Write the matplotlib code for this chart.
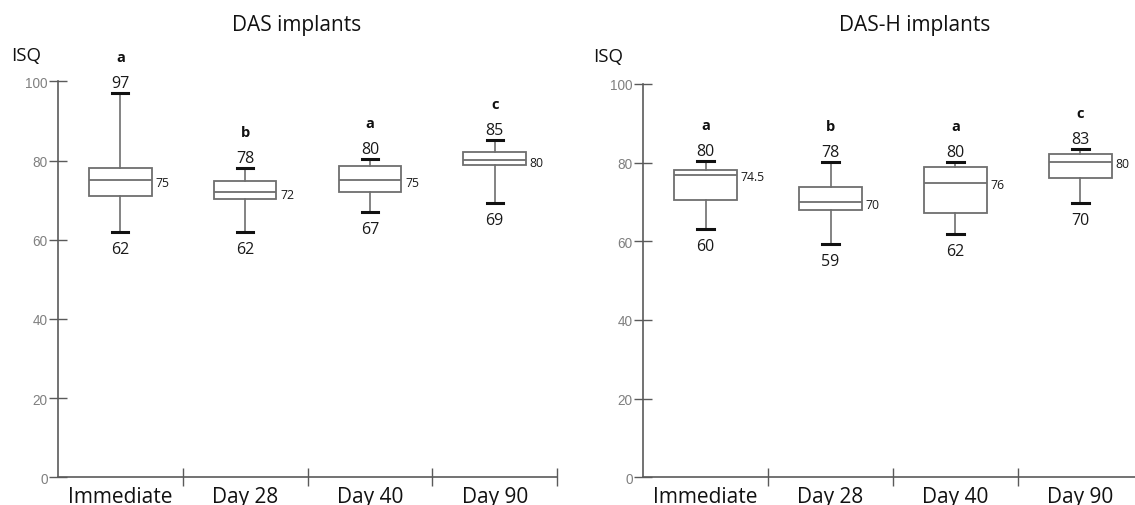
import matplotlib
matplotlib.use("Agg")
import matplotlib.pyplot as plt

plt.rcParams['font.family'] = ['Open Sans', 'DejaVu Sans']

categories = ["Immediate", "Day 28", "Day 40", "Day 90"]

# DAS implants (drawn values)
das_whislo = [62, 62, 67, 69.2]
das_q1 = [71, 70.4, 72, 78.9]
das_med = [75, 72, 75, 80.1]
das_q3 = [78.1, 74.9, 78.7, 82.1]
das_whishi = [97, 78.1, 80.3, 85.2]
das_top_lbl = ["97", "78", "80", "85"]
das_bot_lbl = ["62", "62", "67", "69"]
das_med_lbl = ["75", "72", "75", "80"]
das_letters = ["a", "b", "a", "c"]

# DAS-H implants (drawn values)
dash_whislo = [63.1, 59.3, 61.8, 69.8]
dash_q1 = [70.5, 68.0, 67.1, 76.1]
dash_med = [76.9, 69.9, 74.9, 80.2]
dash_q3 = [78.1, 73.9, 78.9, 82.2]
dash_whishi = [80.4, 80.2, 80.2, 83.4]
dash_top_lbl = ["80", "78", "80", "83"]
dash_bot_lbl = ["60", "59", "62", "70"]
dash_med_lbl = ["74.5", "70", "76", "80"]
dash_letters = ["a", "b", "a", "c"]

yticks = [0, 20, 40, 60, 80, 100]

W, H = 1135, 506
fig = plt.figure(figsize=(W / 100, H / 100), dpi=100)

def px_axes(x0, x1, ybot, ytop):
    return [x0 / W, (H - ybot) / H, (x1 - x0) / W, (ybot - ytop) / H]

ax1 = fig.add_axes(px_axes(58, 557, 478.3, 82.3))
ax2 = fig.add_axes(px_axes(643, 1143, 478.3, 85))

box_c = "#6e6e6e"
spine_c = "#5a5a5a"

def draw(ax, lo, q1, med, q3, hi, top_lbl, bot_lbl, med_lbl, letters):
    stats = []
    for i in range(len(categories)):
        stats.append(dict(med=med[i], q1=q1[i], q3=q3[i], whislo=lo[i],
                          whishi=hi[i], fliers=[], label=categories[i]))
    pos = list(range(len(categories)))
    ax.bxp(stats, positions=pos, widths=0.5, showfliers=False,
           patch_artist=True, capwidths=0.13,
           boxprops=dict(facecolor="white", edgecolor=box_c, linewidth=1.3),
           medianprops=dict(color=box_c, linewidth=1.3),
           whiskerprops=dict(color=box_c, linewidth=1.2),
           capprops=dict(color="#111111", linewidth=2.2))
    for i, p in enumerate(pos):
        ax.annotate(top_lbl[i], xy=(p, hi[i]), xytext=(0, 6),
                    textcoords="offset pixels", ha="center", va="baseline",
                    fontsize=11.5, color="#1a1a1a", annotation_clip=False)
        ax.annotate(bot_lbl[i], xy=(p, lo[i]), xytext=(0, -21),
                    textcoords="offset pixels", ha="center", va="baseline",
                    fontsize=11.5, color="#1a1a1a", annotation_clip=False)
        ax.annotate(letters[i], xy=(p, hi[i]), xytext=(0, 32),
                    textcoords="offset pixels", ha="center", va="baseline",
                    fontsize=10.5, fontweight="bold", color="#111111",
                    annotation_clip=False)
        ax.annotate(med_lbl[i], xy=(p + 0.25, med[i]), xytext=(4, -2),
                    textcoords="offset pixels", ha="left", va="center",
                    fontsize=8.8, color="#1a1a1a", annotation_clip=False)

    ax.set_xlim(-0.5, len(categories) - 0.5)
    ax.set_ylim(0, 100)
    for s in ["top", "right"]:
        ax.spines[s].set_visible(False)
    for s in ["left", "bottom"]:
        ax.spines[s].set_color(spine_c)
        ax.spines[s].set_linewidth(1.2)
    ax.set_yticks(yticks)
    ax.set_yticklabels([str(v) for v in yticks], family="Liberation Sans",
                       fontsize=9.8, color="#808080")
    ax.tick_params(axis="y", direction="inout", length=13, width=1.0,
                   color=spine_c, pad=1)
    ax.set_xticks(pos)
    ax.set_xticklabels(categories, fontsize=15, color="#111111")
    ax.set_xticks([p + 0.5 for p in pos], minor=True)
    ax.tick_params(axis="x", which="major", length=0, pad=6)
    ax.tick_params(axis="x", which="minor", direction="inout", length=13,
                   width=1.0, color=spine_c)
    ax.patch.set_alpha(0)

draw(ax1, das_whislo, das_q1, das_med, das_q3, das_whishi,
     das_top_lbl, das_bot_lbl, das_med_lbl, das_letters)
draw(ax2, dash_whislo, dash_q1, dash_med, dash_q3, dash_whishi,
     dash_top_lbl, dash_bot_lbl, dash_med_lbl, dash_letters)

fig.text(297 / W, 1 - 26 / H, "DAS implants", ha="center", va="center",
         fontsize=15, color="#111111")
fig.text(914.5 / W, 1 - 26 / H, "DAS-H implants", ha="center", va="center",
         fontsize=15, color="#111111")
fig.text(11 / W, 1 - 56 / H, "ISQ", ha="left", va="center", fontsize=13.5,
         color="#111111")
fig.text(593 / W, 1 - 57 / H, "ISQ", ha="left", va="center", fontsize=13.5,
         color="#111111")

fig.savefig("out.png", dpi=100)
